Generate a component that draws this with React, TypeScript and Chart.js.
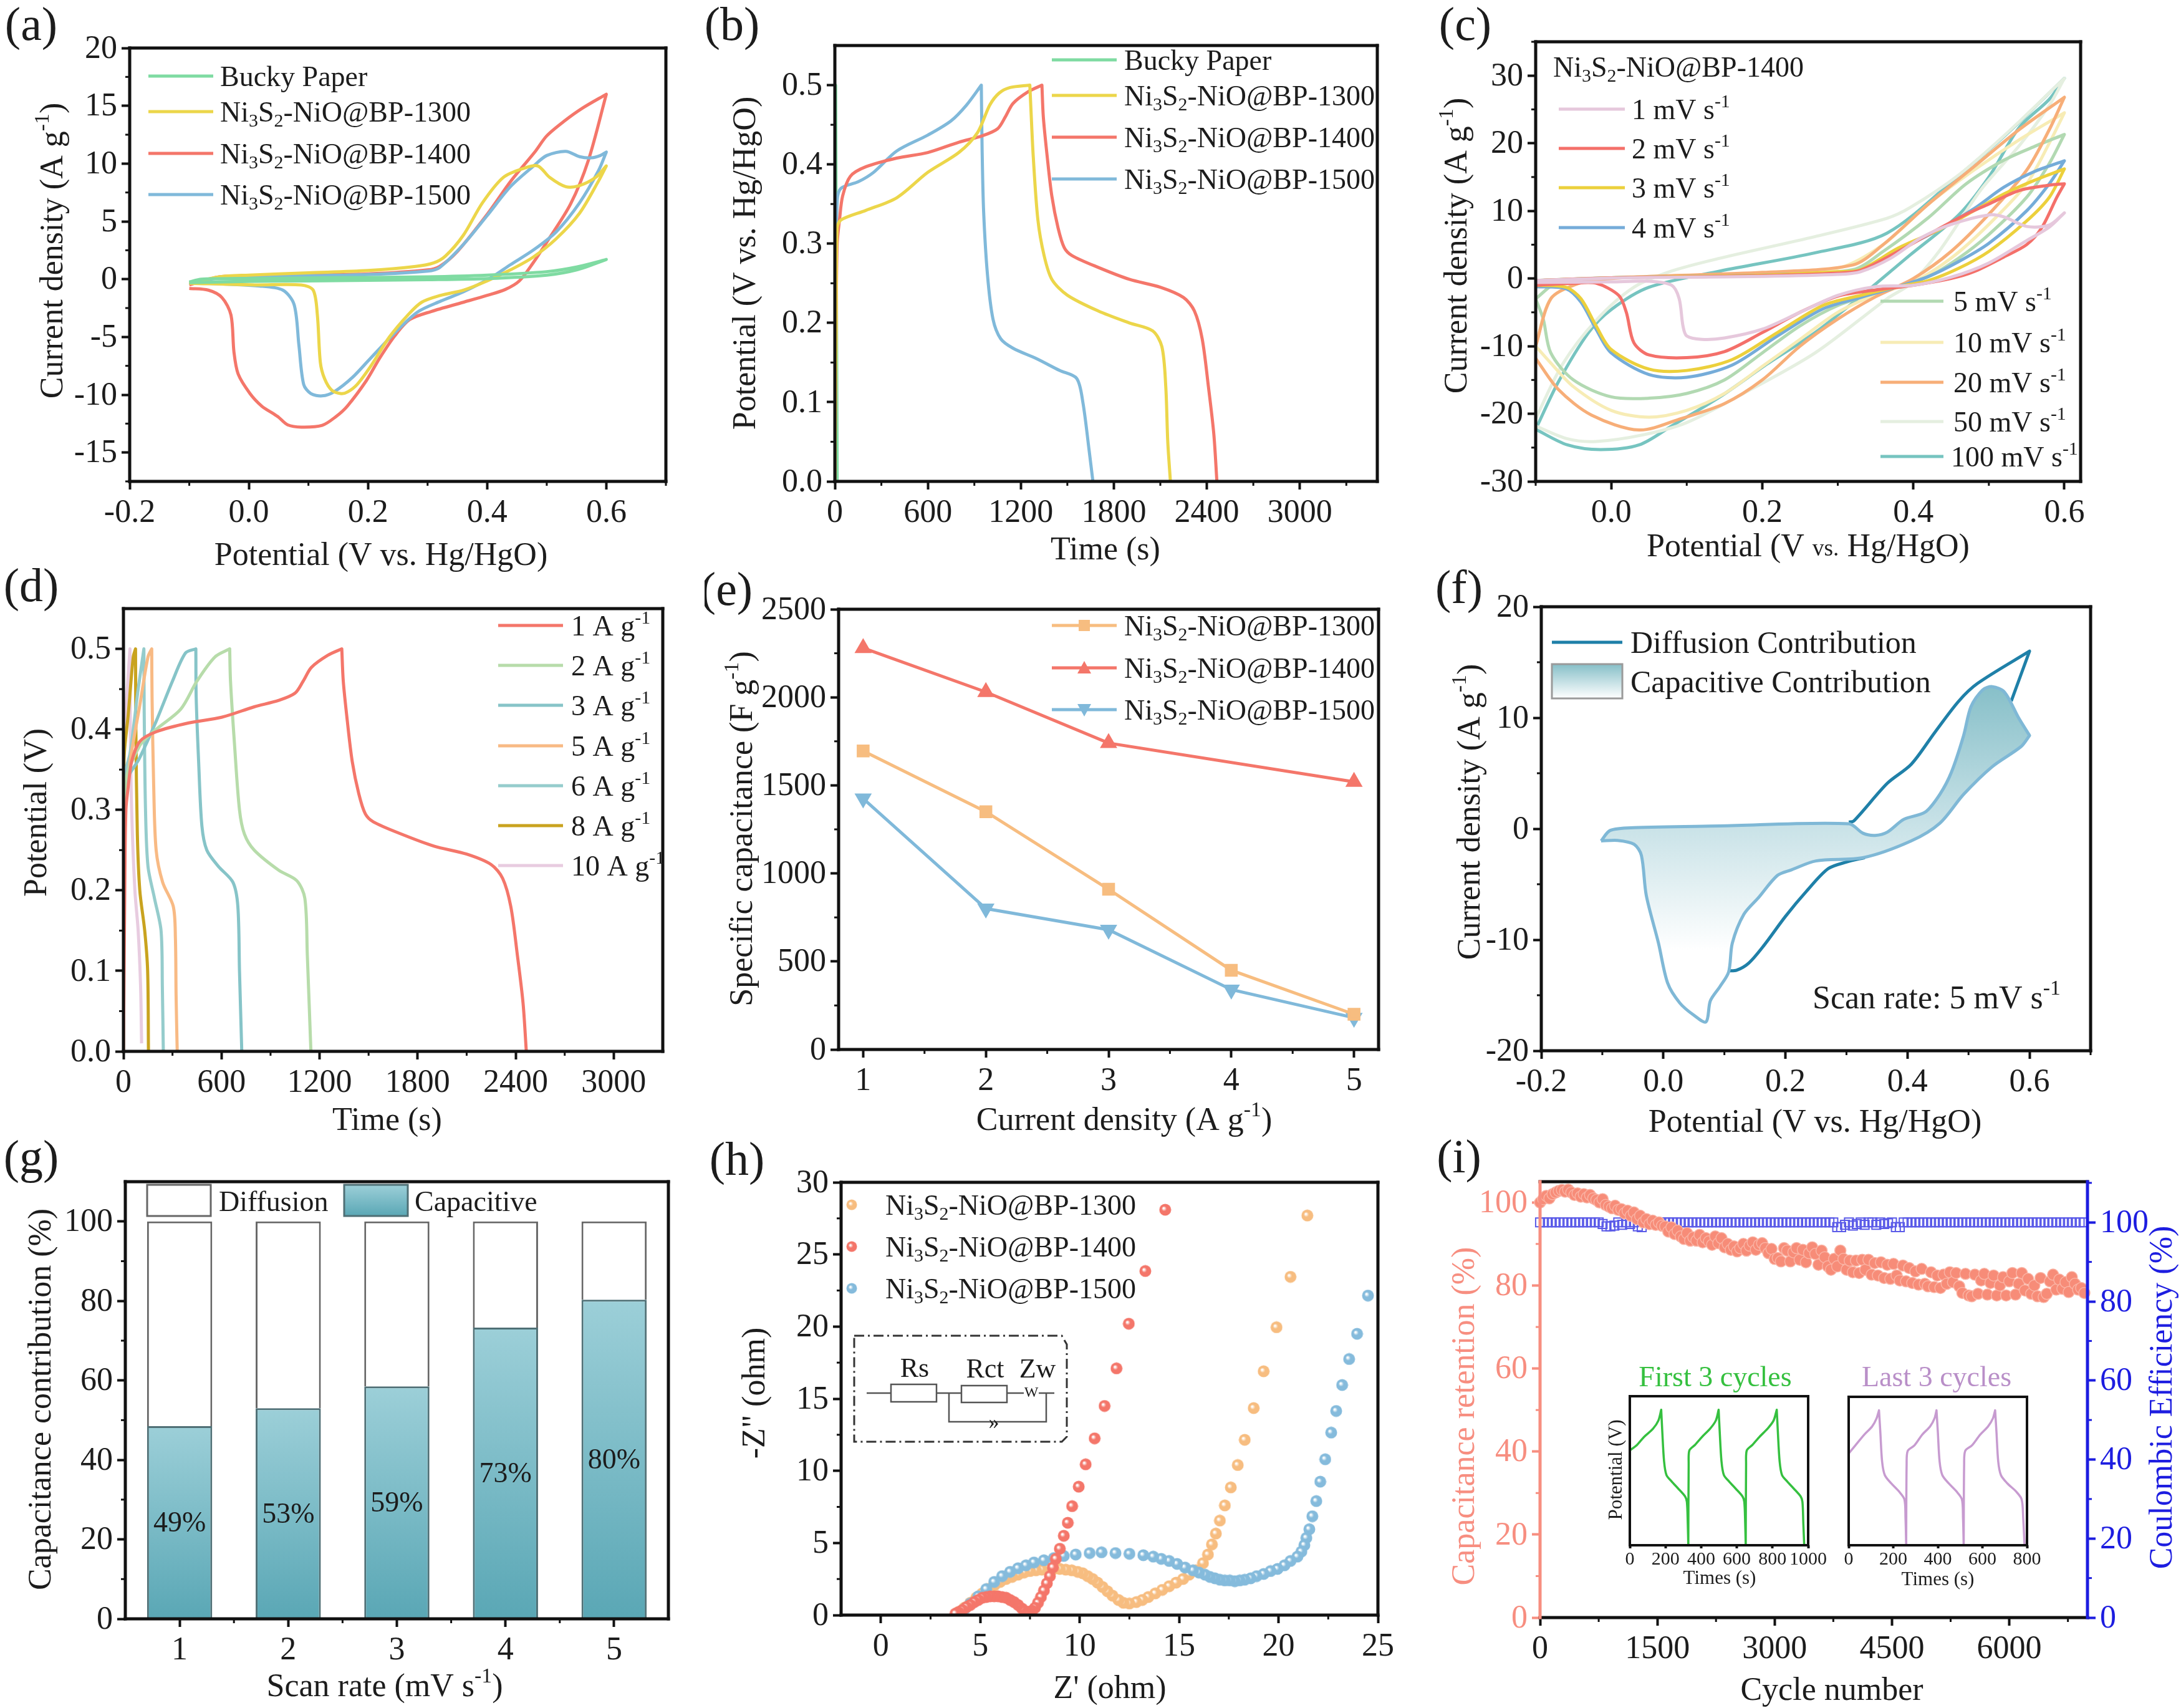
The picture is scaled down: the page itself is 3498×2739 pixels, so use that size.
import { useEffect, useRef } from "react";
import { Chart, registerables } from "chart.js";

Chart.register(...registerables);

const FONT = '"Liberation Serif", "Times New Roman", serif';
const INK = "#1c1c1c";
const GUT_L = 215;
const GUT_T = 100;
const GUT_R = 150;
const GUT_B = 170;

const GREEN = "#7fdba2";
const YELLOW = "#ecd64a";
const RED = "#f4766a";
const BLUE = "#80b9da";
const ORANGE = "#f7bd80";
const PINK_AXIS = "#f78e80";
const DEEP_BLUE = "#1d1de0";

// (a) CV loops at 5 mV/s
const cvBucky = [[-0.1, -0.25], [-0.08, 0], [0, 0.05], [0.1, 0.1], [0.2, 0.15], [0.3, 0.2], [0.4, 0.35], [0.5, 0.65], [0.55, 1.05], [0.6, 1.7], [0.55, 0.8], [0.5, 0.35], [0.4, 0.05], [0.3, -0.05], [0.2, -0.1], [0.1, -0.15], [0, -0.2], [-0.1, -0.3]];
const cv1300 = [[-0.1, -0.4], [-0.05, 0.2], [0, 0.35], [0.1, 0.55], [0.2, 0.75], [0.28, 1.1], [0.31, 1.4], [0.33, 2], [0.36, 3.8], [0.392, 6.6], [0.427, 8.8], [0.462, 9.6], [0.485, 9.8], [0.505, 8.8], [0.532, 8], [0.555, 8.1], [0.582, 8.8], [0.6, 9.8], [0.587, 8.5], [0.555, 5.7], [0.516, 3.5], [0.477, 1.9], [0.439, 0.8], [0.4, -0.15], [0.36, -0.95], [0.322, -1.4], [0.29, -2], [0.267, -3.1], [0.236, -5], [0.205, -7.5], [0.182, -9.1], [0.166, -9.75], [0.155, -9.9], [0.139, -9.6], [0.127, -8.6], [0.12, -7.2], [0.115, -3.1], [0.108, -0.95], [0.088, -0.5], [0.01, -0.5], [-0.1, -0.35]];
const cv1400 = [[-0.1, -0.5], [-0.05, 0.2], [0, 0.25], [0.1, 0.35], [0.2, 0.45], [0.3, 0.8], [0.32, 1.1], [0.35, 2.4], [0.4, 5.6], [0.44, 8.5], [0.48, 11], [0.5, 12.4], [0.53, 13.7], [0.56, 14.8], [0.6, 16], [0.57, 10.3], [0.54, 6.5], [0.5, 3.2], [0.477, 1.4], [0.454, -0.15], [0.43, -0.9], [0.4, -1.4], [0.36, -2], [0.306, -2.8], [0.27, -3.5], [0.245, -4.9], [0.22, -6.8], [0.197, -8.8], [0.165, -11], [0.146, -11.9], [0.123, -12.65], [0.088, -12.8], [0.065, -12.6], [0.05, -11.95], [0.04, -11.6], [0.022, -11], [0.002, -9.9], [-0.018, -8.2], [-0.025, -6.3], [-0.03, -3.1], [-0.045, -1.6], [-0.068, -0.95], [-0.1, -0.8]];
const cv1500 = [[-0.1, -0.3], [-0.05, 0.1], [0, 0.2], [0.1, 0.3], [0.2, 0.4], [0.3, 0.7], [0.32, 1], [0.36, 3], [0.4, 5.5], [0.439, 8], [0.477, 9.75], [0.5, 10.7], [0.532, 11.05], [0.555, 10.6], [0.575, 10.5], [0.59, 10.7], [0.6, 11], [0.587, 9.4], [0.555, 6.6], [0.516, 4.1], [0.477, 2.5], [0.439, 1.25], [0.407, 0.15], [0.36, -1.1], [0.322, -1.9], [0.283, -2.85], [0.244, -4.7], [0.205, -6.8], [0.174, -8.5], [0.143, -9.75], [0.123, -10.1], [0.104, -9.9], [0.092, -9.1], [0.084, -5.7], [0.076, -2.2], [0.057, -0.95], [0.018, -0.6], [-0.1, -0.3]];

// (b) GCD at 1 A/g
const gcdBucky = [[0, 0], [5, 0.5], [15, 0]];
const gcd1300 = [[0, 0], [8, 0.2], [15, 0.32], [40, 0.33], [200, 0.342], [400, 0.358], [600, 0.39], [800, 0.415], [920, 0.44], [1000, 0.475], [1060, 0.49], [1130, 0.497], [1258, 0.5], [1265, 0.47], [1280, 0.41], [1310, 0.33], [1350, 0.285], [1400, 0.255], [1500, 0.235], [1700, 0.215], [1900, 0.2], [2050, 0.19], [2110, 0.17], [2135, 0.12], [2148, 0.05], [2165, 0]];
const gcd1400 = [[0, 0], [8, 0.2], [15, 0.3], [30, 0.33], [50, 0.36], [100, 0.385], [200, 0.397], [400, 0.408], [600, 0.415], [800, 0.428], [950, 0.436], [1050, 0.445], [1100, 0.46], [1150, 0.477], [1250, 0.492], [1336, 0.5], [1345, 0.46], [1370, 0.41], [1400, 0.36], [1440, 0.32], [1480, 0.295], [1530, 0.285], [1700, 0.27], [1900, 0.255], [2100, 0.245], [2250, 0.232], [2320, 0.215], [2370, 0.18], [2410, 0.12], [2445, 0.06], [2465, 0]];
const gcd1500 = [[0, 0], [8, 0.25], [15, 0.355], [40, 0.37], [150, 0.378], [250, 0.39], [400, 0.417], [600, 0.437], [750, 0.455], [850, 0.475], [945, 0.5], [950, 0.42], [960, 0.34], [985, 0.26], [1020, 0.205], [1070, 0.18], [1150, 0.168], [1300, 0.155], [1450, 0.14], [1560, 0.13], [1600, 0.1], [1640, 0.04], [1665, 0]];

// (c) CV of BP-1400 at each scan rate
const cvRate1 = [[-0.1, -0.3], [0, 0.05], [0.1, 0.2], [0.2, 0.3], [0.3, 0.6], [0.33, 1], [0.37, 3], [0.41, 6], [0.45, 8], [0.5, 9.4], [0.52, 9.1], [0.55, 7.7], [0.58, 7.9], [0.6, 9.7], [0.58, 7.6], [0.55, 5.6], [0.5, 2.3], [0.45, 0.2], [0.4, -1], [0.35, -1.2], [0.3, -2.5], [0.25, -5], [0.2, -7.5], [0.15, -8.8], [0.12, -9], [0.1, -8.5], [0.095, -7], [0.09, -3], [0.08, -1], [0.05, -0.4], [0, -0.5], [-0.1, -0.6]];
const cvRate2 = [[-0.1, -0.3], [0, 0.1], [0.1, 0.25], [0.2, 0.4], [0.3, 0.8], [0.33, 1.2], [0.38, 4], [0.42, 6.5], [0.47, 9.5], [0.5, 11], [0.54, 13], [0.58, 13.8], [0.6, 14], [0.59, 12], [0.57, 7.5], [0.55, 5], [0.52, 3.2], [0.48, 1], [0.45, 0], [0.4, -1], [0.35, -1.7], [0.3, -2.6], [0.25, -5], [0.2, -8], [0.15, -10.8], [0.1, -11.7], [0.05, -11.3], [0.03, -9.5], [0.02, -5], [0.01, -2.5], [-0.02, -0.7], [-0.05, -0.7], [-0.1, -1]];
const cvRate3 = [[-0.1, -0.3], [0, 0.1], [0.1, 0.3], [0.2, 0.5], [0.3, 1], [0.33, 1.3], [0.38, 4.5], [0.43, 7], [0.48, 10], [0.52, 12.5], [0.56, 14.5], [0.6, 16.2], [0.58, 12], [0.55, 8.5], [0.5, 4], [0.46, 1.5], [0.42, -0.3], [0.38, -1.2], [0.33, -2.5], [0.28, -4], [0.22, -8], [0.16, -12], [0.1, -13.6], [0.05, -13.4], [0, -10.5], [-0.02, -7], [-0.04, -3], [-0.06, -1.3], [-0.1, -1]];
const cvRate4 = [[-0.1, -0.3], [0, 0.1], [0.1, 0.3], [0.2, 0.5], [0.3, 0.9], [0.33, 1.2], [0.38, 4.2], [0.43, 7], [0.48, 10.3], [0.52, 13.5], [0.56, 15.8], [0.6, 17.4], [0.58, 14], [0.55, 10], [0.5, 5.2], [0.46, 2.5], [0.42, 0.3], [0.38, -1.2], [0.33, -2.8], [0.28, -4.5], [0.22, -8.5], [0.16, -12.8], [0.1, -14.6], [0.05, -14.2], [0, -11], [-0.02, -7.5], [-0.04, -3.5], [-0.06, -1.5], [-0.1, -1.2]];
const cvRate5 = [[-0.1, -3], [-0.07, -0.5], [0, 0.1], [0.1, 0.35], [0.2, 0.6], [0.32, 1.3], [0.36, 4], [0.42, 9], [0.47, 14], [0.52, 17.5], [0.56, 19.5], [0.6, 21.3], [0.58, 17], [0.55, 12], [0.5, 6.5], [0.46, 3], [0.42, 0.3], [0.36, -1.8], [0.3, -4], [0.25, -7], [0.2, -11], [0.15, -15], [0.1, -17], [0.05, -17.7], [0, -17.5], [-0.05, -15], [-0.08, -11], [-0.09, -6], [-0.1, -3]];
const cvRate10 = [[-0.1, -10], [-0.08, -3], [-0.04, -0.6], [0, 0.1], [0.1, 0.4], [0.2, 0.8], [0.3, 1.5], [0.36, 5], [0.42, 11], [0.48, 16], [0.54, 20.5], [0.6, 24.5], [0.58, 20], [0.55, 14], [0.5, 8], [0.45, 3], [0.4, -0.5], [0.35, -2.4], [0.3, -5], [0.25, -9], [0.2, -13], [0.15, -17], [0.1, -19.5], [0.05, -20.5], [0, -19.5], [-0.05, -16], [-0.08, -12.5], [-0.1, -10]];
const cvRate20 = [[-0.1, -10], [-0.08, -3], [-0.05, -1], [-0.02, -0.2], [0.05, 0.3], [0.2, 0.9], [0.32, 2], [0.36, 5], [0.42, 11], [0.48, 16.5], [0.54, 22], [0.6, 26.8], [0.58, 22], [0.55, 16], [0.5, 9.5], [0.45, 4], [0.4, 0], [0.35, -2.7], [0.3, -6], [0.25, -10], [0.2, -15], [0.15, -18.5], [0.093, -20.7], [0.037, -22.4], [-0.026, -20.2], [-0.07, -16.4], [-0.1, -11.8]];
const cvRate50 = [[-0.1, -20.7], [-0.064, -12.6], [-0.02, -6.2], [0.03, -1.3], [0.08, 1.1], [0.144, 3], [0.27, 6.2], [0.365, 8.9], [0.396, 10.5], [0.46, 15.3], [0.522, 21.3], [0.6, 29.6], [0.58, 25.6], [0.54, 19.6], [0.49, 13.2], [0.434, 4], [0.396, -0.8], [0.365, -3], [0.27, -11], [0.175, -17], [0.1, -21.3], [0.043, -23.1], [-0.02, -24.1], [-0.058, -23.7], [-0.1, -21.8]];
const cvRate100 = [[-0.1, -22.3], [-0.07, -15.3], [-0.03, -8], [0, -4.6], [0.05, -1.3], [0.144, 1.1], [0.27, 3.8], [0.365, 6.7], [0.46, 15.2], [0.522, 21.2], [0.6, 29.6], [0.58, 26.5], [0.54, 22.3], [0.5, 15], [0.46, 9.4], [0.396, 3.5], [0.333, -2.4], [0.27, -8], [0.207, -12.6], [0.144, -17.5], [0.08, -21.8], [0.037, -24.6], [-0.014, -25.3], [-0.058, -24.6], [-0.1, -22.3]];

// (d) GCD of BP-1400 at each current density
const rate1A = gcd1400;
const rate2A = [[0, 0], [10, 0.33], [100, 0.38], [200, 0.4], [350, 0.425], [450, 0.46], [560, 0.49], [650, 0.5], [655, 0.46], [680, 0.38], [710, 0.3], [740, 0.27], [800, 0.25], [950, 0.225], [1061, 0.212], [1110, 0.19], [1125, 0.12], [1147, 0]];
const rate3A = [[0, 0], [10, 0.33], [100, 0.365], [200, 0.41], [300, 0.46], [380, 0.495], [443, 0.5], [445, 0.44], [460, 0.36], [480, 0.28], [510, 0.25], [580, 0.23], [670, 0.21], [700, 0.18], [710, 0.1], [724, 0]];
const rate5A = [[0, 0], [5, 0.3], [40, 0.36], [100, 0.43], [150, 0.49], [173, 0.5], [175, 0.44], [185, 0.33], [200, 0.25], [240, 0.21], [305, 0.18], [318, 0.14], [322, 0.07], [329, 0]];
const rate6A = [[0, 0], [5, 0.34], [40, 0.37], [90, 0.45], [125, 0.5], [127, 0.42], [135, 0.3], [150, 0.23], [190, 0.19], [230, 0.15], [238, 0.08], [244, 0]];
const rate8A = [[0, 0], [3, 0.36], [30, 0.42], [60, 0.49], [74, 0.5], [76, 0.4], [85, 0.27], [100, 0.2], [130, 0.15], [148, 0.1], [153, 0]];
const rate10A = [[0, 0], [3, 0.38], [20, 0.44], [40, 0.5], [42, 0.4], [50, 0.3], [70, 0.2], [90, 0.15], [105, 0.08], [111, 0.01]];

// (e) specific capacitance
const currentDensity = [1, 2, 3, 4, 5];
const cap1300 = [1695, 1350, 910, 450, 200];
const cap1400 = [2280, 2030, 1740, null, 1520];
const cap1500 = [1425, 800, 680, 340, 180];

// (f) 5 mV/s contribution
const diffusionUpper = [[0.304, 0.6], [0.312, 0.7], [0.367, 4.1], [0.406, 5.8], [0.445, 8.7], [0.484, 11.5], [0.515, 13.1], [0.6, 16], [0.57, 11.5]];
const diffusionLower = [[0.33, -2.6], [0.3, -3], [0.27, -3.6], [0.235, -5.6], [0.2, -7.9], [0.165, -10.5], [0.14, -12.1], [0.12, -12.75], [0.105, -12.8]];
const capacitiveLoop = [[-0.102, -1.1], [-0.087, -0.15], [-0.048, 0.1], [0.093, 0.25], [0.304, 0.45], [0.327, -0.4], [0.347, -0.6], [0.367, -0.3], [0.394, 0.85], [0.429, 1.5], [0.453, 3.1], [0.472, 5.1], [0.492, 8.4], [0.504, 11], [0.523, 12.5], [0.539, 12.8], [0.559, 12.3], [0.582, 10], [0.6, 8.4], [0.586, 7.4], [0.539, 5.6], [0.492, 3.1], [0.453, 0.5], [0.406, -1.1], [0.328, -2.6], [0.25, -2.9], [0.21, -3.7], [0.187, -4.2], [0.156, -6.2], [0.132, -7.7], [0.113, -10.3], [0.107, -12.9], [0.093, -14.2], [0.077, -15.5], [0.07, -17.4], [0.05, -16.8], [0.027, -15.7], [0.007, -13.9], [-0.008, -10.3], [-0.028, -6], [-0.036, -2.4], [-0.048, -1.4], [-0.075, -1.05], [-0.102, -1.1]];

// (g) capacitance contribution
const scanRates = ["1", "2", "3", "4", "5"];
const capacitiveShare = [48.5, 53, 58.5, 73.3, 80.3];
const diffusionShare = [51.5, 47, 41.5, 26.7, 19.7];
const shareLabels = ["49%", "53%", "59%", "73%", "80%"];

// (h) Nyquist
const eis1300 = [[21.45, 27.7], [20.6, 23.45], [19.9, 19.95], [19.25, 16.9], [18.75, 14.35], [18.3, 12.15], [17.95, 10.4], [17.6, 8.85], [17.3, 7.6], [17.05, 6.55], [16.85, 5.65], [16.65, 4.9], [16.45, 4.2], [16.2, 3.6], [15.85, 3.1], [15.5, 2.8], [15.2, 2.5], [14.85, 2.25], [14.5, 2], [14.15, 1.75], [13.8, 1.5], [13.45, 1.25], [13.15, 1.05], [12.85, 0.9], [12.5, 0.8], [12.2, 0.85], [11.95, 1.05], [11.65, 1.35], [11.4, 1.65], [11.15, 1.95], [10.9, 2.25], [10.65, 2.5], [10.4, 2.7], [10.15, 2.9], [9.9, 3], [9.6, 3.1], [9.3, 3.15], [9, 3.2], [8.7, 3.2], [8.4, 3.2], [8.1, 3.15], [7.8, 3.1], [7.5, 3.05], [7.2, 2.95], [6.9, 2.8], [6.6, 2.65], [6.3, 2.5], [6, 2.3], [5.7, 2.05], [5.4, 1.8], [5.1, 1.5], [4.8, 1.2], [4.5, 0.85], [4.2, 0.5], [3.9, 0.2]];
const eis1400 = [[14.3, 28.1], [13.3, 23.85], [12.47, 20.2], [11.85, 17.1], [11.25, 14.5], [10.75, 12.25], [10.3, 10.45], [9.95, 8.9], [9.62, 7.55], [9.4, 6.4], [9.2, 5.5], [9, 4.6], [8.8, 3.9], [8.65, 3.3], [8.5, 2.7], [8.35, 2.2], [8.2, 1.7], [8.05, 1.25], [7.9, 0.85], [7.75, 0.5], [7.6, 0.3], [7.45, 0.2], [7.3, 0.25], [7.1, 0.45], [6.9, 0.7], [6.7, 0.9], [6.5, 1.05], [6.3, 1.2], [6.1, 1.25], [5.9, 1.3], [5.7, 1.3], [5.5, 1.3], [5.3, 1.25], [5.1, 1.2], [4.9, 1.05], [4.7, 0.9], [4.5, 0.7], [4.3, 0.55], [4.1, 0.35], [3.9, 0.2], [3.75, 0.1]];
const eis1500 = [[24.5, 22.15], [23.95, 19.5], [23.55, 17.75], [23.2, 15.95], [22.9, 14.15], [22.65, 12.65], [22.35, 10.8], [22.1, 9.25], [21.9, 7.9], [21.7, 6.85], [21.55, 5.95], [21.4, 5.35], [21.3, 4.85], [21.15, 4.4], [20.95, 4.05], [20.6, 3.75], [20.3, 3.45], [19.95, 3.2], [19.6, 3.05], [19.25, 2.85], [18.9, 2.7], [18.6, 2.55], [18.3, 2.45], [18.05, 2.4], [17.8, 2.35], [17.55, 2.4], [17.3, 2.4], [17.05, 2.45], [16.8, 2.55], [16.55, 2.65], [16.3, 2.8], [16, 2.95], [15.7, 3.1], [15.3, 3.3], [14.9, 3.55], [14.5, 3.75], [14.1, 3.9], [13.7, 4.05], [13.2, 4.15], [12.5, 4.25], [11.8, 4.3], [11.1, 4.35], [10.5, 4.3], [9.8, 4.2], [9.2, 4.1], [8.7, 3.95], [8.2, 3.8], [7.7, 3.65], [7.3, 3.45], [6.9, 3.25], [6.5, 3], [6.1, 2.7], [5.7, 2.3], [5.3, 1.8], [4.9, 1.3], [4.5, 0.8], [4.2, 0.4], [3.95, 0.15]];

// (i) cycling, one retention reading every 40 cycles, one efficiency reading every 50
const retention = [
  100, 100.8, 101.6, 101, 102, 102.4, 102.8, 103, 102.6, 103.1, 102.4, 101.8, 102.2, 101.4, 102, 101.2, 101.8, 101, 100.6, 100, 100.8, 99.4, 99, 98.6, 99.2, 98.2,
  98.4, 97.4, 98, 96.8, 97.6, 96, 96.8, 95.2, 96, 94.8, 95.6, 94.6, 95.2, 94.4, 94.2, 93, 94, 92.4, 93.2, 91.8, 91.2, 92.6, 90.8, 91.6, 90.8,
  92.2, 90.4, 91.4, 90.6, 89.8, 91.8, 90.2, 91.4, 89.2, 90, 88.6, 89.4, 88.2, 89, 90, 88.4, 89.6, 90.4, 88.6, 89.8, 90.2, 89, 87.8, 88.8, 86.4,
  86.6, 85.8, 89, 88.4, 85.8, 88, 89, 86.2, 88.6, 85.6, 87.8, 89.2, 87.6, 85, 88.4, 86.8, 84.6, 83.8, 86.4, 84.6, 88.4, 86.4, 83.8, 86, 83.2,
  86, 83, 86.2, 83.8, 86.2, 82.6, 85.4, 82.4, 85.6, 81.8, 85, 81.6, 85.2, 82.4, 81.2, 84.8, 81, 84.2, 80.6, 83.4, 80.2, 84, 80.4, 79.8, 83.2,
  79.6, 82.4, 79.4, 82.6, 80.4, 83.2, 80.8, 83, 79.8, 78.2, 82.8, 77.6, 77.4, 82.6, 78, 81.2, 82.8, 77.8, 80.6, 82.4, 77.6, 80, 82, 77.6, 81,
  83, 77.8, 80.4, 83, 78.8, 81.6, 78, 80, 77.4, 81.8, 77.2, 78, 81, 82.6, 79, 81.4, 79.2, 80.8, 78.4, 82, 80.4, 79, 79.4, 78.2,
];
const coulombic = [
  100, 100, 100, 100, 100, 100, 100, 100, 100, 100, 100, 100, 100, 100, 100, 100,
  99.6, 99, 99, 99.2, 100, 99.4, 100, 99.6, 100, 99, 98.8, 100, 100, 100, 100, 100, 100, 100, 100, 100, 100, 100, 100, 100,
  100, 100, 100, 100, 100, 100, 100, 100, 100, 100, 100, 100, 100, 100, 100, 100, 100, 100, 100, 100, 100, 100, 100, 100,
  100, 100, 100, 100, 100, 100, 100, 100, 100, 100, 100, 100, 98.8, 98.8, 99.4, 100, 99.2, 99.6, 100, 99.4, 100, 100, 99.4, 100, 99.6, 99.8, 100, 98.8, 98.8, 100,
  100, 100, 100, 100, 100, 100, 100, 100, 100, 100, 100, 100, 100, 100, 100, 100, 100, 100, 100, 100, 100, 100, 100, 100, 100, 100, 100, 100, 100, 100, 100, 100, 100, 100, 100, 100, 100, 100, 100, 100, 100, 100, 100, 100, 100, 100,
];
const firstCycles = [[0, 0.35], [40, 0.37], [80, 0.4], [130, 0.43], [160, 0.46], [176, 0.5], [182, 0.42], [192, 0.31], [205, 0.26], [235, 0.235], [270, 0.21], [310, 0.18], [320, 0.16], [325, 0.08], [328, 0], [330, 0.3], [334, 0.35], [365, 0.37], [405, 0.4], [450, 0.43], [482, 0.46], [498, 0.5], [504, 0.42], [514, 0.31], [527, 0.26], [557, 0.235], [592, 0.21], [632, 0.18], [642, 0.16], [647, 0.08], [650, 0], [652, 0.3], [656, 0.35], [687, 0.37], [727, 0.4], [772, 0.43], [806, 0.46], [824, 0.5], [830, 0.42], [840, 0.31], [853, 0.26], [883, 0.235], [918, 0.21], [958, 0.18], [968, 0.16], [973, 0.08], [978, 0]];
const lastCycles = [[0, 0.34], [30, 0.37], [70, 0.41], [105, 0.44], [125, 0.47], [136, 0.5], [142, 0.42], [150, 0.31], [162, 0.26], [190, 0.23], [225, 0.2], [250, 0.17], [255, 0.1], [258, 0], [260, 0.3], [265, 0.35], [295, 0.37], [330, 0.41], [365, 0.44], [385, 0.47], [394, 0.5], [400, 0.42], [408, 0.31], [420, 0.26], [448, 0.23], [483, 0.2], [508, 0.17], [513, 0.1], [516, 0], [518, 0.3], [523, 0.35], [553, 0.37], [590, 0.41], [625, 0.44], [647, 0.47], [657, 0.5], [663, 0.42], [671, 0.31], [683, 0.26], [711, 0.23], [750, 0.2], [776, 0.17], [783, 0.1], [789, 0]];

const xy = (pts: number[][]) => pts.map(([x, y]) => ({ x, y }));
const every = (from: number, to: number, step: number) => {
  const out: number[] = [];
  for (let i = 0; from + i * step <= to + 1e-9; i++) out.push(+(from + i * step).toFixed(4));
  return out;
};

// a repeated point makes the spline keep a sharp corner where the scan turns round
const X_TURN = 0;
const Y_TURN = 1;
function withCorners(pts: number[][], idx: number) {
  const out: number[][] = [];
  pts.forEach((p, i) => {
    out.push(p);
    const a = pts[i - 1];
    const b = pts[i + 1];
    if (a && b && (p[idx] - a[idx]) * (b[idx] - p[idx]) < 0) out.push(p);
  });
  return out;
}

const curve = (pts: number[][], color: string, turn = X_TURN, width = 5) => ({
  data: xy(withCorners(pts, turn)),
  showLine: true,
  pointRadius: 0,
  borderColor: color,
  backgroundColor: color,
  borderWidth: width,
  tension: 0.3,
  borderJoinStyle: "round",
});

function ball(color: string) {
  const c = document.createElement("canvas");
  c.width = 20;
  c.height = 20;
  const g = c.getContext("2d");
  const grad = g.createRadialGradient(7.5, 7.5, 1, 10, 10, 10);
  grad.addColorStop(0, "#ffffff");
  grad.addColorStop(0.35, color);
  grad.addColorStop(1, color);
  g.fillStyle = grad;
  g.beginPath();
  g.arc(10, 10, 9.5, 0, Math.PI * 2);
  g.fill();
  return c;
}

const eisSeries = (pts: number[][], color: string) => ({
  data: xy(pts),
  pointStyle: ball(color),
  pointRadius: 9,
  showLine: false,
});

const line5 = (values: (number | null)[], color: string, shape: string, rotation = 0) => ({
  data: values.map((y, i) => ({ x: currentDensity[i], y })),
  showLine: true,
  spanGaps: true,
  borderColor: color,
  borderWidth: 5,
  pointStyle: shape,
  rotation,
  pointRadius: 11,
  backgroundColor: color,
  pointBackgroundColor: color,
  pointBorderColor: color,
});

function axis(a: any) {
  const size = a.size ?? 52;
  return {
    type: "linear",
    position: a.position,
    min: a.min,
    max: a.max,
    afterBuildTicks: (s: any) => {
      s.ticks = a.major.map((value: number) => ({ value }));
    },
    afterFit: (s: any) => {
      if (a.position === "left") s.width = GUT_L;
      else if (a.position === "right") s.width = GUT_R;
      else s.height = GUT_B;
    },
    ticks: {
      autoSkip: false,
      maxRotation: 0,
      minRotation: 0,
      padding: a.pad ?? 7,
      labelOffset: a.position === "bottom" ? 0 : 2,
      color: a.labelColor ?? INK,
      font: { family: FONT, size },
      callback: (v: number) => (a.hideLabels ? "" : v.toFixed(a.digits ?? 0)),
    },
    grid: {
      drawOnChartArea: false,
      tickLength: a.tick ?? 13,
      tickWidth: 4,
      tickColor: a.color ?? "#111",
    },
    border: { display: false },
  };
}

function parseRich(text: string) {
  const parts: any[] = [];
  const re = /_(\S)|\^\{([^}]*)\}|~([^~]*)~|([^_^~]+)/g;
  let m;
  while ((m = re.exec(text))) {
    if (m[1]) parts.push({ t: m[1], scale: 0.65, dy: 0.28 });
    else if (m[2]) parts.push({ t: m[2], scale: 0.65, dy: -0.32 });
    else if (m[3]) parts.push({ t: m[3], scale: 0.72, dy: 0.05 });
    else parts.push({ t: m[4], scale: 1, dy: 0 });
  }
  return parts;
}

function drawRich(ctx: any, item: any) {
  const [text, x, y, opts = {}] = item;
  const size = opts.size ?? 52;
  const parts = parseRich(text);
  ctx.save();
  ctx.translate(x, y);
  if (opts.rot) ctx.rotate(-Math.PI / 2);
  ctx.fillStyle = opts.color ?? INK;
  ctx.textBaseline = "middle";
  ctx.textAlign = "left";
  let total = 0;
  for (const p of parts) {
    ctx.font = `${size * p.scale}px ${FONT}`;
    p.w = ctx.measureText(p.t).width;
    total += p.w;
  }
  let cx = opts.left ? 0 : -total / 2;
  for (const p of parts) {
    ctx.font = `${size * p.scale}px ${FONT}`;
    ctx.fillText(p.t, cx, p.dy * size + size * 0.08);
    cx += p.w;
  }
  ctx.restore();
}

function drawMarker(ctx: any, kind: string, x: number, y: number, color: string) {
  ctx.fillStyle = color;
  ctx.beginPath();
  if (kind === "rect") ctx.rect(x - 9, y - 9, 18, 18);
  if (kind === "up") {
    ctx.moveTo(x, y - 11);
    ctx.lineTo(x + 11, y + 9);
    ctx.lineTo(x - 11, y + 9);
  }
  if (kind === "down") {
    ctx.moveTo(x, y + 11);
    ctx.lineTo(x + 11, y - 9);
    ctx.lineTo(x - 11, y - 9);
  }
  ctx.fill();
}

function drawLegend(ctx: any, lg: any) {
  for (const [y, color, label, opts = {}] of lg.rows) {
    if (opts.ball) {
      ctx.drawImage(ball(color), lg.x0 - 9, y - 9, 18, 18);
    } else {
      ctx.strokeStyle = color;
      ctx.lineWidth = 5;
      ctx.beginPath();
      ctx.moveTo(lg.x0, y);
      ctx.lineTo(lg.x1, y);
      ctx.stroke();
      if (opts.marker) drawMarker(ctx, opts.marker, (lg.x0 + lg.x1) / 2, y, color);
    }
    drawRich(ctx, [label, opts.tx ?? lg.tx, y, { size: lg.size, left: true }]);
  }
}

function drawFrame(chart: any, spec: any) {
  const { ctx, chartArea: a, scales } = chart;
  const f = spec.frame ?? {};
  const width = f.width ?? 5;
  ctx.save();
  const minorLen = spec.minorLen ?? 7;
  const minor = spec.minor ?? {};
  ctx.lineWidth = 3;
  const tick = (x1: number, y1: number, x2: number, y2: number, c: string) => {
    ctx.strokeStyle = c;
    ctx.beginPath();
    ctx.moveTo(x1, y1);
    ctx.lineTo(x2, y2);
    ctx.stroke();
  };
  (minor.x ?? []).forEach((v: number) => {
    const p = scales.x.getPixelForValue(v);
    tick(p, a.bottom, p, a.bottom + minorLen, "#111");
  });
  (minor.y ?? []).forEach((v: number) => {
    const p = scales.y.getPixelForValue(v);
    tick(a.left, p, a.left - minorLen, p, f.left ?? "#111");
  });
  (minor.y2 ?? []).forEach((v: number) => {
    const p = scales.y2.getPixelForValue(v);
    tick(a.right, p, a.right + minorLen, p, f.right ?? "#111");
  });
  ctx.lineWidth = width;
  ctx.lineCap = "square";
  tick(a.left, a.top, a.right, a.top, "#111");
  tick(a.left, a.bottom, a.right, a.bottom, "#111");
  tick(a.left, a.top, a.left, a.bottom, f.left ?? "#111");
  tick(a.right, a.top, a.right, a.bottom, f.right ?? "#111");
  ctx.restore();
}

function Panel({ spec }: { spec: any }) {
  const ref = useRef<HTMLCanvasElement | null>(null);
  const [l, t, r, b] = spec.plot;
  const ox = l - GUT_L;
  const oy = t - GUT_T;

  useEffect(() => {
    const overlay = {
      id: "overlay",
      afterDatasetsDraw(chart: any) {
        drawFrame(chart, spec);
        if (spec.onBars) spec.onBars(chart);
        const ctx = chart.ctx;
        ctx.save();
        ctx.translate(-ox, -oy);
        if (spec.decor) spec.decor(ctx);
        (spec.legends ?? []).forEach((lg: any) => drawLegend(ctx, lg));
        (spec.texts ?? []).forEach((it: any) => drawRich(ctx, it));
        ctx.restore();
      },
    };
    const chart = new Chart(ref.current, {
      type: spec.type ?? "scatter",
      data: { labels: spec.labels, datasets: spec.datasets },
      options: {
        animation: false,
        responsive: false,
        layout: { padding: { top: GUT_T, right: spec.scales.y2 ? 0 : GUT_R, left: 0, bottom: 0 } },
        plugins: { legend: { display: false }, tooltip: { enabled: false } },
        scales: spec.scales,
      },
      plugins: [overlay],
    } as any);
    return () => chart.destroy();
  }, []);

  return (
    <canvas
      ref={ref}
      width={r - l + GUT_L + GUT_R}
      height={b - t + GUT_T + GUT_B}
      style={{ position: "absolute", left: ox, top: oy, display: "block" }}
    />
  );
}

const VOLT_X = { min: -0.2, max: 0.7, major: every(-0.2, 0.6, 0.2), digits: 1, position: "bottom" };
const VOLT_MINOR = [-0.1, 0.1, 0.3, 0.5, 0.7];
const BP_1300 = "Ni_3S_2-NiO@BP-1300";
const BP_1400 = "Ni_3S_2-NiO@BP-1400";
const BP_1500 = "Ni_3S_2-NiO@BP-1500";
const CUR_TITLE = "Current density (A g^{-1})";

const fGradient = (ctx: any) => {
  const { chart } = ctx;
  if (!chart.chartArea) return "#8dc5cc";
  const y = chart.scales.y;
  const g = chart.ctx.createLinearGradient(0, y.getPixelForValue(13), 0, y.getPixelForValue(-11));
  g.addColorStop(0, "#86bfc8");
  g.addColorStop(0.45, "#bfdde3");
  g.addColorStop(1, "#ffffff");
  return g;
};

const barGradient = (ctx: any) => {
  const { chart, raw } = ctx;
  if (!chart.chartArea || raw === undefined) return "#7fbcc6";
  const y = chart.scales.y;
  const g = chart.ctx.createLinearGradient(0, y.getPixelForValue(raw), 0, y.getPixelForValue(0));
  g.addColorStop(0, "#9ccfd8");
  g.addColorStop(1, "#5aa7b5");
  return g;
};

const panels: any[] = [
  {
    plot: [208, 77, 1068, 772],
    datasets: [curve(cvBucky, GREEN), curve(cv1300, YELLOW), curve(cv1500, BLUE), curve(cv1400, RED)],
    scales: {
      x: axis(VOLT_X),
      y: axis({ min: -17.5, max: 20, major: every(-15, 20, 5), position: "left" }),
    },
    minor: { x: VOLT_MINOR, y: every(-17.5, 17.5, 5) },
    legends: [{ x0: 238, x1: 342, tx: 353, size: 46, rows: [[122, GREEN, "Bucky Paper"], [179, YELLOW, BP_1300], [246, RED, BP_1400], [312, BLUE, BP_1500]] }],
    texts: [
      ["(a)", 50, 38, { size: 76 }],
      [CUR_TITLE, 82, 402, { rot: true }],
      ["Potential (V vs. Hg/HgO)", 611, 888],
    ],
  },
  {
    plot: [1339, 73, 2209, 772],
    datasets: [curve(gcd1300, YELLOW, Y_TURN), curve(gcd1400, RED, Y_TURN), curve(gcd1500, BLUE, Y_TURN), curve(gcdBucky, GREEN, Y_TURN)],
    scales: {
      x: axis({ min: 0, max: 3500, major: every(0, 3000, 600), position: "bottom" }),
      y: axis({ min: 0, max: 0.55, major: every(0, 0.5, 0.1), digits: 1, position: "left" }),
    },
    minor: { x: every(300, 3300, 600), y: every(0.05, 0.45, 0.1) },
    legends: [{ x0: 1687, x1: 1791, tx: 1803, size: 46, rows: [[96, GREEN, "Bucky Paper"], [153, YELLOW, BP_1300], [220, RED, BP_1400], [287, BLUE, BP_1500]] }],
    texts: [
      ["(b)", 1174, 38, { size: 76 }],
      ["Potential (V vs. Hg/HgO)", 1193, 422, { rot: true }],
      ["Time (s)", 1773, 879],
    ],
  },
  {
    plot: [2463, 67, 3337, 772],
    datasets: [
      curve(cvRate1, "#e6c8dc"), curve(cvRate2, "#f4706a"), curve(cvRate3, "#ecd03c"), curve(cvRate4, "#75acd9"),
      curve(cvRate20, "#f7ae78"), curve(cvRate5, "#b2d9b2"), curve(cvRate10, "#f7ecb5"), curve(cvRate50, "#e5efe0"), curve(cvRate100, "#76c4c0"),
    ],
    scales: {
      x: axis({ min: -0.1, max: 0.6215, major: every(0, 0.6, 0.2), digits: 1, position: "bottom" }),
      y: axis({ min: -30, max: 35, major: every(-30, 30, 10), position: "left" }),
    },
    minor: { x: [-0.1, 0.1, 0.3, 0.5], y: every(-25, 35, 10) },
    legends: [
      { x0: 2500, x1: 2606, tx: 2617, size: 46, rows: [[175, "#e6c8dc", "1 mV s^{-1}"], [238, "#f4706a", "2 mV s^{-1}"], [301, "#ecd03c", "3 mV s^{-1}"], [365, "#75acd9", "4 mV s^{-1}"]] },
      { x0: 3016, x1: 3117, tx: 3133, size: 46, rows: [[483, "#b2d9b2", "5 mV s^{-1}"], [549, "#f7ecb5", "10 mV s^{-1}"], [613, "#f7ae78", "20 mV s^{-1}"], [676, "#e5efe0", "50 mV s^{-1}"], [732, "#76c4c0", "100 mV s^{-1}", { tx: 3129 }]] },
    ],
    texts: [
      ["(c)", 2350, 38, { size: 76 }],
      [CUR_TITLE, 2334, 394, { rot: true }],
      ["Potential (V ~vs.~ Hg/HgO)", 2900, 874],
      [BP_1400, 2491, 107, { size: 46, left: true }],
    ],
  },
  {
    plot: [198, 976, 1063, 1686],
    datasets: [
      curve(rate1A, "#f4766a", Y_TURN), curve(rate2A, "#b7dcaa", Y_TURN), curve(rate3A, "#86c4c8", Y_TURN), curve(rate5A, "#f8ba84", Y_TURN),
      curve(rate6A, "#95cccc", Y_TURN), curve(rate8A, "#c9a31f", Y_TURN), curve(rate10A, "#e8cce0", Y_TURN),
    ],
    scales: {
      x: axis({ min: 0, max: 3300, major: every(0, 3000, 600), position: "bottom" }),
      y: axis({ min: 0, max: 0.55, major: every(0, 0.5, 0.1), digits: 1, position: "left" }),
    },
    minor: { x: every(300, 2700, 600), y: every(0.05, 0.45, 0.1) },
    legends: [{
      x0: 799, x1: 903, tx: 916, size: 46,
      rows: [[1003, "#f4766a", "1 A g^{-1}"], [1067, "#b7dcaa", "2 A g^{-1}"], [1131, "#86c4c8", "3 A g^{-1}"], [1196, "#f8ba84", "5 A g^{-1}"], [1260, "#95cccc", "6 A g^{-1}"], [1324, "#c9a31f", "8 A g^{-1}"], [1388, "#e8cce0", "10 A g^{-1}"]],
    }],
    texts: [
      ["(d)", 50, 938, { size: 76 }],
      ["Potential (V)", 56, 1303, { rot: true }],
      ["Time (s)", 621, 1794],
    ],
  },
  {
    plot: [1345, 977, 2211, 1683],
    datasets: [line5(cap1300, ORANGE, "rect"), line5(cap1500, BLUE, "triangle", 180), line5(cap1400, RED, "triangle")],
    scales: {
      x: axis({ min: 0.8, max: 5.2, major: currentDensity, position: "bottom" }),
      y: axis({ min: 0, max: 2500, major: every(0, 2500, 500), position: "left" }),
    },
    minor: { x: every(1.5, 4.5, 1), y: every(250, 2250, 500) },
    legends: [{ x0: 1687, x1: 1791, tx: 1803, size: 46, rows: [[1003, ORANGE, BP_1300, { marker: "rect" }], [1071, RED, BP_1400, { marker: "up" }], [1138, BLUE, BP_1500, { marker: "down" }]] }],
    texts: [
      ["(e)", 1165, 944, { size: 76 }],
      ["Specific capacitance (F g^{-1})", 1188, 1329, { rot: true }],
      ["Current density (A g^{-1})", 1803, 1794],
    ],
  },
  {
    plot: [2472, 973, 3353, 1685],
    datasets: [
      { ...curve(capacitiveLoop, "#7fb8d6"), fill: "shape", backgroundColor: fGradient },
      curve(diffusionUpper, "#1f80a8"),
      curve(diffusionLower, "#1f80a8"),
    ],
    scales: {
      x: axis(VOLT_X),
      y: axis({ min: -20, max: 20, major: every(-20, 20, 10), position: "left" }),
    },
    minor: { x: VOLT_MINOR, y: every(-15, 15, 10) },
    decor: (ctx: any) => {
      ctx.strokeStyle = "#1f80a8";
      ctx.lineWidth = 5;
      ctx.beginPath();
      ctx.moveTo(2489, 1030);
      ctx.lineTo(2602, 1030);
      ctx.stroke();
      const g = ctx.createLinearGradient(0, 1065, 0, 1120);
      g.addColorStop(0, "#86bfc8");
      g.addColorStop(1, "#ffffff");
      ctx.fillStyle = g;
      ctx.fillRect(2489, 1065, 113, 55);
      ctx.strokeStyle = "#9a9a9a";
      ctx.lineWidth = 3;
      ctx.strokeRect(2489, 1065, 113, 55);
    },
    texts: [
      ["(f)", 2340, 941, { size: 76 }],
      [CUR_TITLE, 2355, 1302, { rot: true }],
      ["Potential (V vs. Hg/HgO)", 2911, 1797],
      ["Diffusion Contribution", 2615, 1030, { size: 50, left: true }],
      ["Capacitive Contribution", 2615, 1093, { size: 50, left: true }],
      ["Scan rate: 5 mV s^{-1}", 2907, 1599, { size: 52, left: true }],
    ],
  },
  {
    plot: [201, 1895, 1072, 2596],
    type: "bar",
    labels: scanRates,
    datasets: [
      { data: capacitiveShare, backgroundColor: barGradient, borderColor: "#4f6f75", borderWidth: 3, barPercentage: 0.6, categoryPercentage: 1 },
      { data: diffusionShare, backgroundColor: "#ffffff", borderColor: "#666666", borderWidth: 3, barPercentage: 0.6, categoryPercentage: 1 },
    ],
    scales: {
      x: {
        ...axis({ major: [], position: "bottom" }),
        type: "category",
        min: undefined,
        max: undefined,
        stacked: true,
        offset: true,
        afterBuildTicks: undefined,
        ticks: { autoSkip: false, maxRotation: 0, minRotation: 0, padding: 7, color: INK, font: { family: FONT, size: 52 } },
        grid: { drawOnChartArea: false, tickLength: 13, tickWidth: 4, tickColor: "#111", offset: false },
      },
      y: { ...axis({ min: 0, max: 110, major: every(0, 100, 20), position: "left" }), stacked: true },
    },
    minor: { x: [0.5, 1.5, 2.5, 3.5], y: every(10, 90, 20) },
    onBars: (chart: any) => {
      const { ctx } = chart;
      ctx.save();
      ctx.fillStyle = INK;
      ctx.font = `46px ${FONT}`;
      ctx.textAlign = "center";
      ctx.textBaseline = "middle";
      chart.getDatasetMeta(0).data.forEach((bar: any, i: number) => {
        ctx.fillText(shareLabels[i], bar.x, (bar.y + bar.base) / 2 + 3);
      });
      ctx.restore();
    },
    decor: (ctx: any) => {
      ctx.fillStyle = "#ffffff";
      ctx.strokeStyle = "#666666";
      ctx.lineWidth = 3;
      ctx.fillRect(236, 1900, 102, 50);
      ctx.strokeRect(236, 1900, 102, 50);
      const g = ctx.createLinearGradient(0, 1900, 0, 1950);
      g.addColorStop(0, "#9ccfd8");
      g.addColorStop(1, "#5aa7b5");
      ctx.fillStyle = g;
      ctx.strokeStyle = "#4f6f75";
      ctx.fillRect(552, 1900, 102, 50);
      ctx.strokeRect(552, 1900, 102, 50);
    },
    texts: [
      ["(g)", 50, 1855, { size: 76 }],
      ["Capacitance contribution (%)", 63, 2244, { rot: true }],
      ["Scan rate (mV s^{-1})", 617, 2702],
      ["Diffusion", 351, 1926, { size: 46, left: true }],
      ["Capacitive", 665, 1926, { size: 46, left: true }],
    ],
  },
  {
    plot: [1349, 1896, 2210, 2590],
    datasets: [eisSeries(eis1400, "#f4766a"), eisSeries(eis1500, "#85bbdc"), eisSeries(eis1300, "#f7bd80")],
    scales: {
      x: axis({ min: -2, max: 25, major: every(0, 25, 5), position: "bottom" }),
      y: axis({ min: 0, max: 30, major: every(0, 30, 5), position: "left" }),
    },
    minor: { x: every(2.5, 22.5, 5), y: every(2.5, 27.5, 5) },
    legends: [{ x0: 1366, x1: 1366, tx: 1420, size: 46, rows: [[1932, "#f7bd80", BP_1300, { ball: true }], [1999, "#f4766a", BP_1400, { ball: true }], [2066, "#85bbdc", BP_1500, { ball: true }]] }],
    decor: (ctx: any) => {
      ctx.strokeStyle = "#333";
      ctx.lineWidth = 3;
      ctx.setLineDash([16, 6, 3, 6]);
      ctx.beginPath();
      ctx.moveTo(1370, 2142);
      ctx.lineTo(1703, 2142);
      ctx.lineTo(1711, 2156);
      ctx.lineTo(1711, 2304);
      ctx.lineTo(1703, 2312);
      ctx.lineTo(1370, 2312);
      ctx.closePath();
      ctx.stroke();
      ctx.setLineDash([]);
      ctx.strokeStyle = "#555";
      ctx.lineWidth = 2.5;
      ctx.strokeRect(1429, 2220, 73, 28);
      ctx.strokeRect(1542, 2222, 73, 27);
      const wire = (pts: number[][]) => {
        ctx.beginPath();
        pts.forEach(([x, y], i) => (i ? ctx.lineTo(x, y) : ctx.moveTo(x, y)));
        ctx.stroke();
      };
      wire([[1390, 2234], [1429, 2234]]);
      wire([[1502, 2234], [1542, 2234]]);
      wire([[1615, 2234], [1642, 2234]]);
      wire([[1666, 2234], [1691, 2234]]);
      wire([[1522, 2234], [1522, 2280], [1678, 2280], [1678, 2234]]);
    },
    texts: [
      ["(h)", 1182, 1858, { size: 76 }],
      ['-Z" (ohm)', 1208, 2234, { rot: true }],
      ["Z' (ohm)", 1780, 2705],
      ["Rs", 1467, 2193, { size: 44 }],
      ["Rct", 1580, 2194, { size: 44 }],
      ["Zw", 1664, 2194, { size: 44 }],
      ["W", 1654, 2232, { size: 24 }],
      ["»", 1594, 2279, { size: 34 }],
    ],
  },
  {
    plot: [2470, 1895, 3348, 2594],
    datasets: [
      {
        data: retention.map((y, i) => ({ x: i * 40, y })),
        pointRadius: 9,
        pointBackgroundColor: "#f78c78",
        pointBorderColor: "#fab3a4",
        pointBorderWidth: 1.5,
        clip: false,
      },
      {
        data: coulombic.map((y, i) => ({ x: i * 50, y })),
        yAxisID: "y2",
        pointStyle: "rect",
        pointRadius: 10,
        pointBackgroundColor: "rgba(255,255,255,0)",
        pointBorderColor: "#5a5ae8",
        pointBorderWidth: 2,
        clip: false,
      },
    ],
    scales: {
      x: axis({ min: 0, max: 7000, major: every(0, 6000, 1500), position: "bottom" }),
      y: axis({ min: 0, max: 105, major: every(0, 100, 20), position: "left", color: PINK_AXIS, labelColor: PINK_AXIS }),
      y2: axis({ min: 0, max: 110.3, major: every(0, 100, 20), position: "right", color: DEEP_BLUE, labelColor: DEEP_BLUE }),
    },
    frame: { left: PINK_AXIS, right: DEEP_BLUE },
    minor: { x: every(750, 6750, 1500), y: every(10, 90, 20), y2: every(10, 110, 20) },
    texts: [
      ["(i)", 2340, 1854, { size: 76 }],
      ["Capacitance retention (%)", 2346, 2271, { rot: true, color: PINK_AXIS }],
      ["Coulombic Efficiency (%)", 3465, 2241, { rot: true, color: DEEP_BLUE }],
      ["Cycle number", 2938, 2708],
      ["First 3 cycles", 2751, 2207, { size: 46, color: "#35c03f" }],
      ["Last 3 cycles", 3106, 2207, { size: 46, color: "#b98fc8" }],
    ],
  },
  {
    plot: [2614, 2239, 2900, 2478],
    datasets: [curve(firstCycles, "#35c03f", Y_TURN, 3.5)],
    scales: {
      x: axis({ min: 0, max: 1000, major: every(0, 1000, 200), position: "bottom", size: 30, tick: 5, pad: 0 }),
      y: axis({ min: 0, max: 0.55, major: [], position: "left", size: 30, hideLabels: true }),
    },
    frame: { width: 4 },
    texts: [
      ["Potential (V)", 2590, 2357, { size: 31, rot: true }],
      ["Times (s)", 2758, 2529, { size: 31 }],
    ],
  },
  {
    plot: [2965, 2240, 3251, 2478],
    datasets: [curve(lastCycles, "#c79bd0", Y_TURN, 3.5)],
    scales: {
      x: axis({ min: 0, max: 800, major: every(0, 800, 200), position: "bottom", size: 30, tick: 5, pad: 0 }),
      y: axis({ min: 0, max: 0.55, major: [], position: "left", size: 30, hideLabels: true }),
    },
    frame: { width: 4 },
    texts: [["Times (s)", 3108, 2531, { size: 31 }]],
  },
];

export default function App() {
  return (
    <div style={{ position: "absolute", left: 0, top: 0, width: 3498, height: 2739, overflow: "hidden", background: "#fff" }}>
      {panels.map((spec, i) => (
        <Panel key={i} spec={spec} />
      ))}
    </div>
  );
}
